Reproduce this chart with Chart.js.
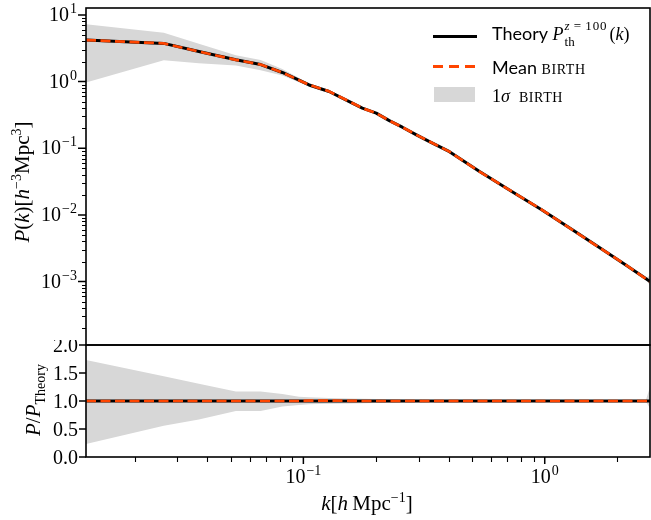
<!DOCTYPE html>
<html><head><meta charset="utf-8">
<script src="https://cdn.jsdelivr.net/npm/chart.js@4.4.1/dist/chart.umd.min.js"></script>
<style>
html,body{margin:0;padding:0;background:#fff;}
#wrap{position:relative;width:651px;height:520px;overflow:hidden;background:#fff;}
canvas{position:absolute;left:0;}
.t{position:absolute;white-space:nowrap;font-family:'Liberation Serif','DejaVu Serif',serif;color:#000;line-height:1;}
.sans{font-family:'Lato','Noto Sans',sans-serif;}
.sc{font-size:14px;letter-spacing:0.6px;}
.sw{position:absolute;}
sup,sub{line-height:0;}
</style></head><body>
<div id="wrap">
<canvas id="cTop" width="651" height="346" style="top:0px"></canvas>
<canvas id="cBot" width="651" height="180" style="top:340px"></canvas>

<div class="t" id="ytitle1" style="left:22px;top:182px;font-size:21px;transform:translate(-50%,-50%) rotate(-90deg);"><i>P</i>(<i>k</i>)[<i>h</i><sup style="font-size:14px;">−3</sup>Mpc<sup style="font-size:14px;">3</sup>]</div>
<div class="t" id="ytitle2" style="left:33px;top:400px;font-size:21px;transform:translate(-50%,-50%) rotate(-90deg);"><i>P</i>/<i>P</i><sub style="font-size:14px;">Theory</sub></div>
<div class="t" id="xtitle" style="left:367px;top:503px;font-size:21px;transform:translate(-50%,-50%);"><i>k</i>[<i>h</i>&thinsp;Mpc<sup style="font-size:14px;">−1</sup>]</div>

<div class="sw" style="left:433px;top:35px;width:44px;height:3px;background:#000;"></div>
<div class="sw" style="left:433px;top:65px;width:44px;height:3px;background:repeating-linear-gradient(90deg,#FF4500 0px,#FF4500 10px,transparent 10px,transparent 16px);"></div>
<div class="sw" style="left:434px;top:87px;width:41px;height:15px;background:#d7d7d7;"></div>

<div class="t" style="left:492px;top:24px;font-size:18px;"><span class="sans">Theory</span> <i>P</i><span style="position:relative;display:inline-block;width:46px;height:18px;vertical-align:top;"><span style="position:absolute;left:1px;top:-5px;font-size:13px;letter-spacing:0.8px;"><i>z</i>&thinsp;=&thinsp;100</span><span style="position:absolute;left:1px;top:11px;font-size:13px;">th</span></span>(<i>k</i>)</div>
<div class="t" style="left:492px;top:58px;font-size:18px;"><span class="sans">Mean</span> <span class="sc">BIRTH</span></div>
<div class="t" style="left:492px;top:87px;font-size:18px;">1<i>σ</i>&nbsp; <span class="sc">BIRTH</span></div>
</div>

<script>
// ---- data ----
const kValues    = [0.01257, 0.0264, 0.0369, 0.0525, 0.0665, 0.0818, 0.0959, 0.1056, 0.1278, 0.155, 0.1755, 0.2004, 0.227, 0.257, 0.294, 0.333, 0.403, 0.537, 0.722, 0.971, 1.307, 1.74, 2.19, 2.62, 2.73];
const pTheory    = [4.2, 3.74, 2.82, 2.12, 1.80, 1.37, 1.05, 0.89, 0.71, 0.50, 0.40, 0.336, 0.26, 0.207, 0.159, 0.126, 0.089, 0.0447, 0.0231, 0.0120, 0.00592, 0.0030, 0.00173, 0.00111, 0.00100];
const pMean      = [4.2, 3.74, 2.82, 2.12, 1.80, 1.37, 1.05, 0.894, 0.714, 0.502, 0.40, 0.336, 0.26, 0.207, 0.159, 0.126, 0.089, 0.0447, 0.0231, 0.0120, 0.00592, 0.0030, 0.00173, 0.00111, 0.00100];
const ratioUpper = [1.73, 1.44, 1.31, 1.17, 1.17, 1.125, 1.077, 1.065, 1.055, 1.045, 1.04, 1.035, 1.03, 1.025, 1.022, 1.02, 1.017, 1.013, 1.01, 1.008, 1.006, 1.005, 1.005, 1.005, 1.25];
const ratioLower = [0.23, 0.56, 0.67, 0.82, 0.82, 0.90, 0.93, 0.94, 0.95, 0.955, 0.96, 0.965, 0.97, 0.975, 0.978, 0.98, 0.983, 0.987, 0.99, 0.992, 0.994, 0.995, 0.995, 0.995, 0.87];
const ratioMean  = [1.0, 1.0, 1.0, 1.0, 1.0, 1.0, 1.0, 1.005, 1.006, 1.004, 1.0, 1.0, 1.0, 1.0, 1.0, 1.0, 1.0, 1.0, 1.0, 1.0, 1.0, 1.0, 1.0, 1.0, 1.0];
const ratioTheory= [1, 1, 1, 1, 1, 1, 1, 1, 1, 1, 1, 1, 1, 1, 1, 1, 1, 1, 1, 1, 1, 1, 1, 1, 1];

const xTickValues   = [0.1, 1];
const xTickLabels   = [['10', '−1'], ['10', '0']];
const yTickValuesTop = [1e-3, 1e-2, 1e-1, 1, 10];
const yTickLabelsTop = [['10', '−3'], ['10', '−2'], ['10', '−1'], ['10', '0'], ['10', '1']];
const yTickValuesBot = [0, 0.5, 1, 1.5, 2];
const yTickLabelsBot = ['0.0', '0.5', '1.0', '1.5', '2.0'];

const legendLabels = ['Theory', 'Mean BIRTH', '1σ BIRTH'];

const X_MIN = 0.01257, X_MAX = 2.73;
const Y_MIN_TOP = 1.12e-4, Y_MAX_TOP = 12.7;

const ORANGE = '#FF4500', BAND = '#d7d7d7';
const FONT = '"Liberation Serif","DejaVu Serif",serif';

const pts = (ys) => kValues.map((k, i) => ({x: k, y: ys[i]}));
const bandUpTop = kValues.map((k, i) => ({x: k, y: pTheory[i] * ratioUpper[i]}));
const bandLoTop = kValues.map((k, i) => ({x: k, y: pTheory[i] * ratioLower[i]}));

function lineDs(label, data, color, width, dash, order) {
  return {label, data, borderColor: color, borderWidth: width, borderDash: dash || [],
    pointRadius: 0, fill: false, tension: 0, order, borderJoinStyle: 'round', borderCapStyle: 'butt'};
}
function bandDs(label, data, fill, order) {
  return {label, data, borderWidth: 0, borderColor: 'rgba(0,0,0,0)', backgroundColor: BAND,
    pointRadius: 0, fill, tension: 0, order};
}

function drawPow(ctx, base, exp, x, y, align) {
  ctx.font = '20px ' + FONT; const wb = ctx.measureText(base).width;
  ctx.font = '14px ' + FONT; const we = ctx.measureText(exp).width;
  const w = wb + we + 1;
  const x0 = align === 'right' ? x - w : x - w / 2;
  ctx.textAlign = 'left'; ctx.textBaseline = 'alphabetic'; ctx.fillStyle = '#000';
  ctx.font = '20px ' + FONT; ctx.fillText(base, x0, y);
  ctx.font = '14px ' + FONT; ctx.fillText(exp, x0 + wb + 1, y - 8);
}

function logMinors(min, max) {
  const out = [];
  for (let e = -5; e <= 2; e++) for (let m = 2; m <= 9; m++) {
    const v = m * Math.pow(10, e); if (v >= min && v <= max) out.push(v);
  }
  return out;
}

const decorTop = {
  id: 'decorTop',
  afterDraw(chart) {
    const ctx = chart.ctx, a = chart.chartArea, ys = chart.scales.y;
    ctx.save();
    ctx.strokeStyle = '#000';
    ctx.lineWidth = 1.1; ctx.beginPath();
    logMinors(Y_MIN_TOP, Y_MAX_TOP).forEach(v => { const p = Math.round(ys.getPixelForValue(v)) + 0.5; ctx.moveTo(a.left, p); ctx.lineTo(a.left - 4, p); });
    ctx.stroke();
    ctx.lineWidth = 1.5; ctx.beginPath();
    yTickValuesTop.forEach(v => { const p = ys.getPixelForValue(v); ctx.moveTo(a.left, p); ctx.lineTo(a.left - 8, p); });
    ctx.stroke();
    yTickValuesTop.forEach((v, i) => { const p = ys.getPixelForValue(v); drawPow(ctx, yTickLabelsTop[i][0], yTickLabelsTop[i][1], a.left - 9, p + 6, 'right'); });
    ctx.lineWidth = 1.6; ctx.strokeRect(a.left, a.top, a.right - a.left, a.bottom - a.top);
    ctx.restore();
  }
};

const decorBot = {
  id: 'decorBot',
  afterDraw(chart) {
    const ctx = chart.ctx, a = chart.chartArea, ys = chart.scales.y, xs = chart.scales.x;
    ctx.save();
    ctx.strokeStyle = '#000';
    ctx.lineWidth = 1.5; ctx.beginPath();
    yTickValuesBot.forEach(v => { const p = ys.getPixelForValue(v); ctx.moveTo(a.left, p); ctx.lineTo(a.left - 7, p); });
    ctx.stroke();
    ctx.fillStyle = '#000'; ctx.font = '20px ' + FONT; ctx.textAlign = 'right'; ctx.textBaseline = 'alphabetic';
    yTickValuesBot.forEach((v, i) => { const p = ys.getPixelForValue(v); ctx.fillText(yTickLabelsBot[i], a.left - 8, p + 6.5); });
    ctx.lineWidth = 1.1; ctx.beginPath();
    logMinors(X_MIN, X_MAX).forEach(v => { const p = Math.round(xs.getPixelForValue(v)) + 0.5; ctx.moveTo(p, a.bottom); ctx.lineTo(p, a.bottom + 5); });
    ctx.stroke();
    ctx.lineWidth = 1.5; ctx.beginPath();
    xTickValues.forEach(v => { const p = xs.getPixelForValue(v); ctx.moveTo(p, a.bottom); ctx.lineTo(p, a.bottom + 7); });
    ctx.stroke();
    xTickValues.forEach((v, i) => { const p = xs.getPixelForValue(v); drawPow(ctx, xTickLabels[i][0], xTickLabels[i][1], p, a.bottom + 26, 'center'); });
    ctx.lineWidth = 1.6; ctx.strokeRect(a.left, a.top, a.right - a.left, a.bottom - a.top);
    ctx.restore();
  }
};

const commonPlugins = {legend: {display: false}, tooltip: {enabled: false}};

new Chart(document.getElementById('cTop'), {
  type: 'line',
  data: {datasets: [
    lineDs(legendLabels[1], pts(pMean), ORANGE, 2.7, [10, 4.5], 0),
    lineDs(legendLabels[0], pts(pTheory), '#000', 3, null, 1),
    bandDs(legendLabels[2], bandUpTop, '+1', 2),
    bandDs('band lower', bandLoTop, false, 3)
  ]},
  options: {
    responsive: false, animation: false, devicePixelRatio: 1,
    layout: {padding: {left: 0, top: 8, right: 1, bottom: 1}},
    plugins: commonPlugins,
    scales: {
      x: {type: 'logarithmic', min: X_MIN, max: X_MAX, display: false},
      y: {type: 'logarithmic', min: Y_MIN_TOP, max: Y_MAX_TOP,
          grid: {display: false}, border: {display: false}, ticks: {display: false},
          afterFit(s) { s.width = 86; }}
    }
  },
  plugins: [decorTop]
});

new Chart(document.getElementById('cBot'), {
  type: 'line',
  data: {datasets: [
    lineDs(legendLabels[1], pts(ratioMean), ORANGE, 2.7, [10, 4.5], 0),
    lineDs(legendLabels[0], pts(ratioTheory), '#000', 3, null, 1),
    bandDs(legendLabels[2], pts(ratioUpper), '+1', 2),
    bandDs('band lower', pts(ratioLower), false, 3)
  ]},
  options: {
    responsive: false, animation: false, devicePixelRatio: 1,
    layout: {padding: {left: 0, top: 5, right: 1, bottom: 0}},
    plugins: commonPlugins,
    scales: {
      x: {type: 'logarithmic', min: X_MIN, max: X_MAX,
          grid: {display: false}, border: {display: false}, ticks: {display: false},
          afterFit(s) { s.height = 63; }},
      y: {type: 'linear', min: 0, max: 2,
          grid: {display: false}, border: {display: false}, ticks: {display: false},
          afterFit(s) { s.width = 86; }}
    }
  },
  plugins: [decorBot]
});
</script>
</body></html>
